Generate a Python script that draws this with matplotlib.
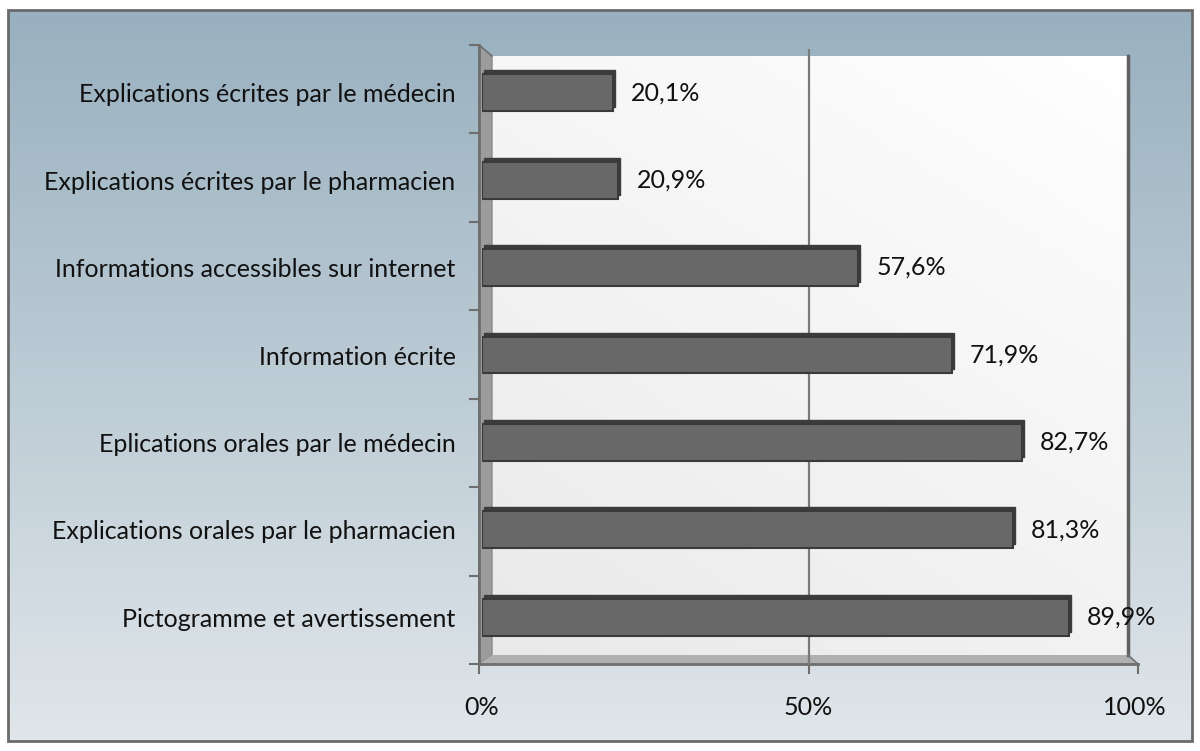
import numpy as np
import matplotlib
matplotlib.use("Agg")
import matplotlib.pyplot as plt
from matplotlib.patches import Polygon, Rectangle
from matplotlib.transforms import ScaledTranslation

plt.rcParams['font.family'] = ['Lato', 'DejaVu Sans']

categories = [
    "Explications écrites par le médecin",
    "Explications écrites par le pharmacien",
    "Informations accessibles sur internet",
    "Information écrite",
    "Eplications orales par le médecin",
    "Explications orales par le pharmacien",
    "Pictogramme et avertissement",
]
values = [20.1, 20.9, 57.6, 71.9, 82.7, 81.3, 89.9]
xticks = [0, 50, 100]
xtick_labels = ["0%", "50%", "100%"]

W, H = 1200, 751
FS = 18
fig = plt.figure(figsize=(W / 100, H / 100), dpi=100)

# background layer in pixel coordinates
bg = fig.add_axes([0, 0, 1, 1])
bg.set_xlim(0, W)
bg.set_ylim(H, 0)
bg.axis("off")

grad = np.linspace(0, 1, 256).reshape(-1, 1)
top_c = np.array([152, 176, 191]) / 255
bot_c = np.array([224, 230, 234]) / 255
bg_img = top_c + (bot_c - top_c) * grad[..., None]
bg.imshow(bg_img, extent=(8, 1192, 741, 10), aspect="auto", zorder=0)
bg.add_patch(Rectangle((8, 10), 1184, 731, fill=False, ec="#6a6a6a", lw=2, zorder=1))

# back wall, light diagonal gradient
yy, xx = np.mgrid[0:1:100j, 0:1:100j]
t = np.clip(0.6 * yy + 0.4 * (1 - xx), 0, 1)
wall = np.ones((100, 100, 3)) * (1 - 0.085 * t)[..., None]
bg.imshow(wall, extent=(492, 1128, 655, 56), aspect="auto", zorder=1)

# side wall and floor
bg.add_patch(Polygon([(479, 45), (492, 56), (492, 655), (479, 664)],
                     closed=True, fc="#9c9c9c", ec="#8a8a8a", lw=1, zorder=2))
bg.add_patch(Polygon([(479, 664), (492, 655), (1128, 655), (1138, 664)],
                     closed=True, fc="#b0b0b0", ec="none", zorder=2))
bg.plot([479, 479], [45, 664], color="#6e6e6e", lw=2, zorder=3)
bg.plot([479, 1138], [664, 664], color="#6e6e6e", lw=2, zorder=3)
bg.plot([1128, 1128], [56, 655], color="#606060", lw=2.5, zorder=3)
bg.plot([1128, 1138], [655, 664], color="#707070", lw=1.2, zorder=3)
bg.plot([479, 492], [45, 56], color="#707070", lw=1.2, zorder=3)

# main axes carrying the bars
x0, x1 = 482, 1135
y_top, y_bot = 49, 661
ax = fig.add_axes([x0 / W, 1 - y_bot / H, (x1 - x0) / W, (y_bot - y_top) / H])
ax.patch.set_alpha(0)
for s in ax.spines.values():
    s.set_visible(False)

n = len(categories)
pos = np.arange(n)
ax.set_xlim(0, 100)
ax.set_ylim(n - 0.5, -0.5)

# gridline at 50%
ax.axvline(50, color="#7a7a7a", lw=1.6, zorder=1)

depth = ScaledTranslation(0.02, 0.04, fig.dpi_scale_trans)
ax.barh(pos, values, height=0.42, color="#3c3c3c", edgecolor="#3c3c3c",
        transform=ax.transData + depth, zorder=2)
ax.barh(pos, values, height=0.42, color="#686868", edgecolor="#3a3a3a",
        lw=1.5, zorder=3)

for p, v in zip(pos, values):
    ax.annotate(f"{v:.1f}%".replace(".", ","), (v, p), xytext=(13, 0),
                textcoords="offset points", va="center", ha="left",
                fontsize=FS, color="#111111")

ax.set_yticks(pos)
ax.set_yticklabels(categories, fontsize=FS, color="#111111")
ax.tick_params(axis="y", length=0, pad=19)
ax.set_xticks(xticks)
ax.set_xticklabels(xtick_labels, fontsize=FS, color="#111111")
ax.tick_params(axis="x", length=0, pad=25)

# small tick marks on the front axis lines
tick_ys = np.linspace(45, 664, n + 1)
for ty in tick_ys:
    bg.plot([470, 479], [ty, ty], color="#6e6e6e", lw=1.5, zorder=3)
for tx in [479, 808.5, 1138]:
    bg.plot([tx, tx], [664, 673], color="#6e6e6e", lw=1.5, zorder=3)
bg.plot([808.5, 808.5], [655, 664], color="#7a7a7a", lw=1.6, zorder=3)

fig.savefig("out.png", dpi=100)
